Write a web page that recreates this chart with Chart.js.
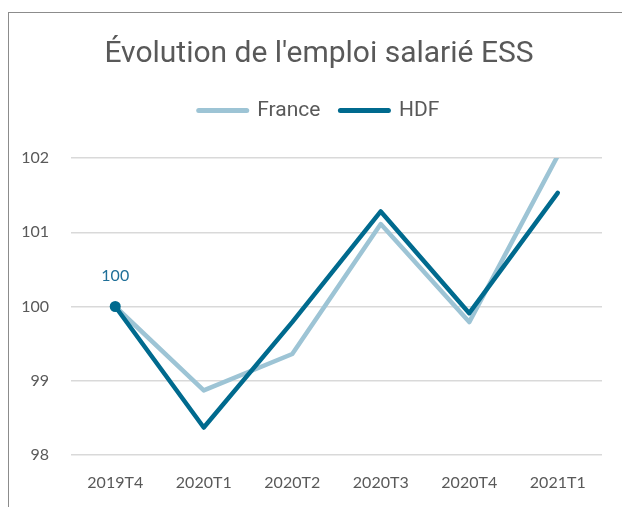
<!DOCTYPE html>
<html>
<head>
<meta charset="utf-8">
<script src="https://cdn.jsdelivr.net/npm/chart.js@4"></script>
<style>
body { margin: 0; background: #fff; }
.frame { position: absolute; left: 8px; top: 12px; width: 700px; height: 600px; border: 1.5px solid #8c8c8c; }
#myChart { position: absolute; left: 0; top: 0; }
</style>
</head>
<body>
<div class="frame"></div>
<canvas id="myChart" width="622" height="507"></canvas>
<script>
const quarters = ['2019T4', '2020T1', '2020T2', '2020T3', '2020T4', '2021T1'];
const franceValues = [100, 98.87, 99.36, 101.11, 99.79, 102.03];
const hdfValues = [100, 98.37, 99.79, 101.28, 99.91, 101.53];
const yMin = 98;
const yMax = 102;

const franceColor = '#9dc4d5';
const hdfColor = '#006a8e';
const textColor = '#595959';
const tickFont = { family: 'Lato', size: 16 };

// label "100" above the first HDF point
const firstPointLabel = {
    id: 'firstPointLabel',
    afterDatasetsDraw(chart) {
        const pt = chart.getDatasetMeta(1).data[0];
        const ctx = chart.ctx;
        ctx.save();
        ctx.fillStyle = '#1f6f98';
        ctx.font = '16px Lato';
        ctx.textAlign = 'center';
        ctx.fillText(String(hdfValues[0]), pt.x, pt.y - 31);
        ctx.restore();
    }
};

// extra room under the legend, and title/legend nudged right
const legendGap = {
    id: 'legendGap',
    afterInit(chart) {
        const fit = chart.legend.fit;
        chart.legend.fit = function () {
            fit.call(this);
            this.height += 27;
        };
    },
    afterLayout(chart) {
        [chart.legend, chart.titleBlock].forEach(box => {
            box.left += 8;
            box.right += 8;
        });
    }
};

const ctx = document.getElementById('myChart').getContext('2d');
let myChart = new Chart(ctx, {
    type: 'line',
    data: {
        labels: quarters,
        datasets: [
            {
                label: 'France',
                data: franceValues,
                borderColor: franceColor,
                backgroundColor: franceColor,
                borderWidth: 4.5,
                borderCapStyle: 'round',
                borderJoinStyle: 'round',
                pointRadius: 0,
                clip: 0,
                order: 1
            },
            {
                label: 'HDF',
                data: hdfValues,
                borderColor: hdfColor,
                backgroundColor: hdfColor,
                borderWidth: 4.5,
                borderCapStyle: 'round',
                borderJoinStyle: 'round',
                pointRadius: [5.5, 0, 0, 0, 0, 0],
                pointBorderWidth: 0,
                pointBackgroundColor: hdfColor,
                order: 0
            }
        ]
    },
    options: {
        responsive: false,
        animation: false,
        layout: { padding: { left: 20, right: 20, top: 0, bottom: 0 } },
        plugins: {
            title: {
                display: true,
                text: "Évolution de l'emploi salarié ESS",
                color: textColor,
                font: { family: 'Roboto', size: 30, weight: 'normal' },
                padding: { top: 36, bottom: 8 }
            },
            legend: {
                labels: {
                    color: textColor,
                    font: { family: 'Roboto', size: 21 },
                    usePointStyle: true,
                    pointStyleWidth: 48,
                    padding: 20,
                    generateLabels: chart => chart.data.datasets.map((ds, i) => ({
                        text: ds.label,
                        datasetIndex: i,
                        strokeStyle: ds.borderColor,
                        fillStyle: ds.borderColor,
                        fontColor: textColor,
                        lineWidth: 5,
                        lineCap: 'round',
                        pointStyle: 'line',
                        hidden: false
                    }))
                }
            },
            tooltip: { enabled: false }
        },
        scales: {
            x: {
                offset: true,
                grid: { display: false },
                border: { display: false },
                ticks: { color: textColor, font: tickFont, padding: 10, maxRotation: 0 },
                afterFit: scale => { scale.height = 52; }
            },
            y: {
                min: yMin,
                max: yMax,
                ticks: { stepSize: 1, color: textColor, font: tickFont, padding: 22 },
                grid: { color: '#d9d9d9', lineWidth: 1.5, drawTicks: false },
                border: { display: false },
                afterFit: scale => { scale.width = 51; }
            }
        }
    },
    plugins: [firstPointLabel, legendGap]
});
</script>
</body>
</html>
